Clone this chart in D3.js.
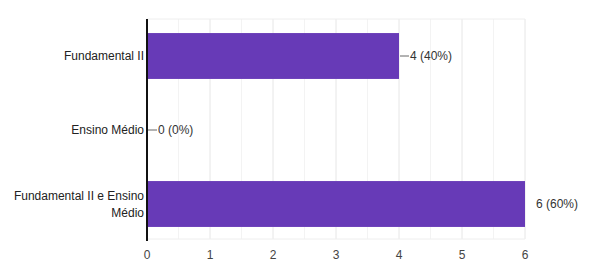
<!doctype html>
<html>
<head>
<meta charset="utf-8">
<script src="https://cdnjs.cloudflare.com/ajax/libs/d3/7.8.5/d3.min.js"></script>
<style>
  body { margin: 0; background: #fff; }
  text { font-family: "Liberation Sans", Arial, sans-serif; }
</style>
</head>
<body>
<svg id="chart" width="595" height="273"></svg>
<script>
    // data
    var categories = [["Fundamental II"], ["Ensino Médio"], ["Fundamental II e Ensino", "Médio"]];
    var counts = [4, 0, 6];
    var percents = ["40%", "0%", "60%"];
    var xTicks = [0, 1, 2, 3, 4, 5, 6];

    var svg = d3.select("#chart");

    var plotLeft = 147, plotRight = 525, plotTop = 19, plotBottom = 241;

    var x = d3.scaleLinear().domain([0, 6]).range([plotLeft, plotRight]);
    var y = d3.scaleBand().domain(d3.range(categories.length))
        .range([plotTop, plotBottom]).paddingInner(0.38).paddingOuter(0.19);

    // minor gridlines (half steps)
    svg.selectAll("line.minor")
        .data(d3.range(0.5, 6, 1))
        .enter().append("line")
        .attr("class", "minor")
        .attr("x1", d => x(d)).attr("x2", d => x(d))
        .attr("y1", plotTop).attr("y2", plotBottom - 2)
        .style("stroke", "#f3f3f3").style("stroke-width", 1);

    // major gridlines
    svg.selectAll("line.major")
        .data(xTicks.slice(1))
        .enter().append("line")
        .attr("class", "major")
        .attr("x1", d => x(d)).attr("x2", d => x(d))
        .attr("y1", plotTop).attr("y2", plotBottom - 2)
        .style("stroke", "#e6e6e6").style("stroke-width", 1);

    svg.append("line")
        .attr("x1", plotLeft).attr("x2", plotRight)
        .attr("y1", plotTop).attr("y2", plotTop)
        .style("stroke", "#eeeeee");
    svg.append("line")
        .attr("x1", plotLeft).attr("x2", plotRight)
        .attr("y1", plotBottom - 2).attr("y2", plotBottom - 2)
        .style("stroke", "#eeeeee");

    // bars
    svg.selectAll("rect.bar")
        .data(counts)
        .enter().append("rect")
        .attr("class", "bar")
        .attr("x", x(0))
        .attr("y", (d, i) => y(i))
        .attr("width", d => x(d) - x(0))
        .attr("height", y.bandwidth())
        .style("fill", "#673ab7");

    // leader lines + value labels
    svg.selectAll("line.leader")
        .data(counts)
        .enter().append("line")
        .attr("class", "leader")
        .attr("x1", d => x(d) + 1).attr("x2", d => x(d) + 10)
        .attr("y1", (d, i) => y(i) + y.bandwidth() / 2)
        .attr("y2", (d, i) => y(i) + y.bandwidth() / 2)
        .style("stroke", d => d === 6 ? "#ffffff" : "#666")
        .style("stroke-width", 1);

    svg.selectAll("text.value")
        .data(counts)
        .enter().append("text")
        .attr("class", "value")
        .attr("x", d => x(d) + 11)
        .attr("y", (d, i) => y(i) + y.bandwidth() / 2 + 4)
        .style("font-size", "12px")
        .style("fill", "#333")
        .text((d, i) => d + " (" + percents[i] + ")");

    // category labels
    svg.selectAll("text.cat")
        .data(categories)
        .enter().append("text")
        .attr("class", "cat")
        .attr("text-anchor", "end")
        .style("font-size", "12px")
        .style("fill", "#222")
        .each(function (d, i) {
            var cy = y(i) + y.bandwidth() / 2;
            var start = cy - (d.length - 1) * 8.5 + 4;
            d3.select(this).selectAll("tspan")
                .data(d)
                .enter().append("tspan")
                .attr("x", plotLeft - 3)
                .attr("y", (t, j) => start + j * 17)
                .text(t => t);
        });

    // x axis labels
    svg.selectAll("text.tick")
        .data(xTicks)
        .enter().append("text")
        .attr("class", "tick")
        .attr("x", d => x(d))
        .attr("y", 259)
        .attr("text-anchor", "middle")
        .style("font-size", "12px")
        .style("fill", "#444")
        .text(d => d);

    // baseline axis
    svg.append("line")
        .attr("x1", plotLeft).attr("x2", plotLeft)
        .attr("y1", plotTop).attr("y2", plotBottom)
        .style("stroke", "#111").style("stroke-width", 2);
</script>
</body>
</html>
